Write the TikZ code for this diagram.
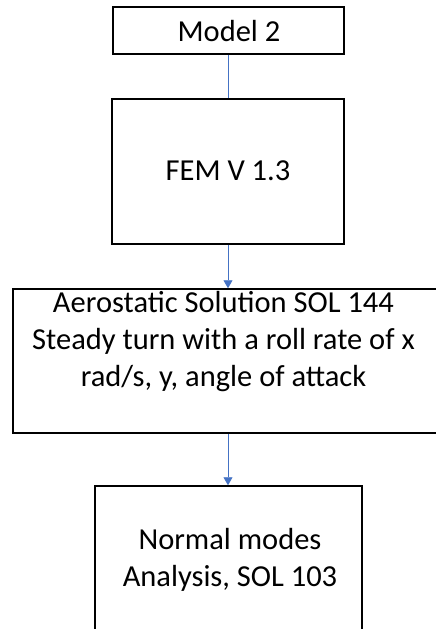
\documentclass[tikz,border=0pt]{standalone}
\usepackage{fontspec}
\setmainfont{Carlito}
\usetikzlibrary{arrows.meta}
\definecolor{linkblue}{HTML}{4472C4}
\tikzset{
  box/.style={draw=black, line width=1.5pt, fill=white, rectangle, inner sep=0pt},
  txt/.style={align=center, inner sep=0pt, font=\fontsize{30.5}{37}\selectfont},
  link/.style={draw=linkblue, line width=0.8pt},
  arrowlink/.style={link, -{Triangle[width=9pt,length=8pt]}},
}
\begin{document}
\begin{tikzpicture}[x=1pt, y=-1pt]
  \useasboundingbox (0,0) rectangle (436,629);
  % boxes
  \node[box, minimum width=231pt, minimum height=47pt] (model) at (228.5,30.5) {};
  \node[txt] (modeltext) at (229,31) {Model 2};
  \node[box, minimum width=232pt, minimum height=145pt] (fem) at (228,171.5) {};
  \node[txt] (femtext) at (228,171) {FEM V 1.3};
  \node[box, minimum width=425pt, minimum height=144pt] (aero) at (225.5,361) {};
  \node[txt] (aerotext) at (223.5,342) {Aerostatic Solution SOL 144\\Steady turn with a roll rate of x\\rad/s, y, angle of attack};
  \node[box, minimum width=267pt, minimum height=160pt] (modes) at (228.5,566) {};
  \node[txt] (modestext) at (230,560) {Normal modes\\Analysis, SOL 103};
  % connectors
  \draw[link] (model.south -| 228,0) -- (fem.north -| 228,0);
  \draw[arrowlink] (fem.south -| 228,0) -- (aero.north -| 228,0);
  \draw[arrowlink] (aero.south -| 228,0) -- (modes.north -| 228,0);
\end{tikzpicture}
\end{document}
